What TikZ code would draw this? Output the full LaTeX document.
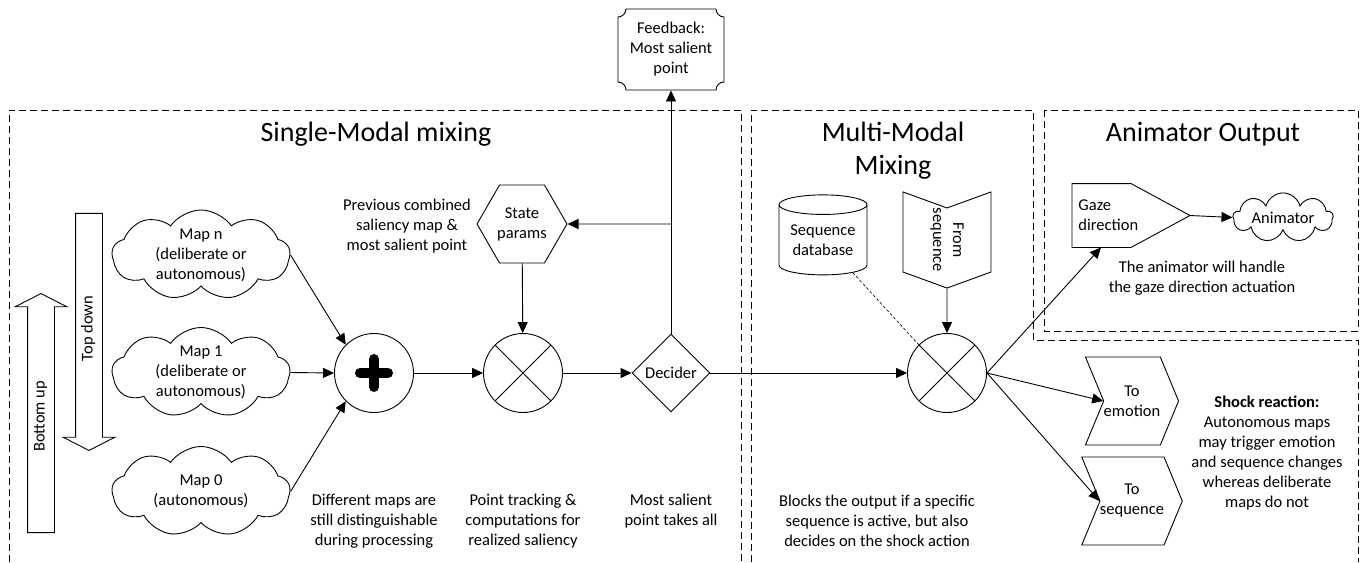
\documentclass[tikz,border=0pt]{standalone}
\usepackage{fontspec}
\setmainfont{Carlito}
\usetikzlibrary{arrows.meta,shapes.geometric,shapes.symbols,shapes.arrows}

\begin{document}
\begin{tikzpicture}[
        x=1pt, y=-1pt,
        line width=0.9pt,
        every node/.style={font=\fontsize{16.5}{20}\selectfont},
        flow/.style={-{Triangle[length=11pt,width=10pt]}},
        groupbox/.style={dash pattern=on 7pt off 4pt, line width=0.8pt},
        heading/.style={font=\fontsize{28}{33}\selectfont, align=center},
        note/.style={align=center},
        mapcloud/.style={cloud, draw, cloud puffs=9, cloud puff arc=110, cloud ignores aspect, minimum width=178pt, minimum height=90pt, inner xsep=0pt, inner ysep=-4pt, align=center},
        mixer/.style={circle, draw, minimum size=79pt, inner sep=0pt},
        crossed/.style={mixer, path picture={
            \draw (path picture bounding box.north west) -- (path picture bounding box.south east)
                  (path picture bounding box.south west) -- (path picture bounding box.north east);}},
        bigarrow/.style={single arrow, draw, rotate=90, single arrow head extend=12.5pt, single arrow tip angle=126, text height=10pt, text depth=3pt, inner ysep=6.5pt, inner xsep=0pt},
        chevron/.style={signal, draw, signal from=west, signal to=east, signal pointer angle=135, minimum width=88pt, minimum height=88pt, align=center, inner sep=0pt}
    ]
    \useasboundingbox (0,0) rectangle (1362,562);

    % group boxes
    \draw[groupbox] (9,562) -- (9,110) -- (741,110) -- (741,562);
    \draw[groupbox] (751,562) -- (751,110) -- (1033,110) -- (1033,340) -- (1358,340) -- (1358,562);
    \draw[groupbox] (1044,110) rectangle (1358,331);
    \node[heading] at (376,134) {Single-Modal mixing};
    \node[heading] at (893,151) {Multi-Modal\\Mixing};
    \node[heading] at (1203,134) {Animator Output};

    % single-modal part
    \node[bigarrow, minimum height=239pt] (bottomup) at (41,416.5) {Bottom up};
    \node[bigarrow, minimum height=237pt, shape border rotate=180] (topdown) at (89,328.5) {Top down};
    \node[mapcloud] (mapn) at (201,255) {Map n\\(deliberate or\\autonomous)};
    \node[mapcloud] (map1) at (201,372.5) {Map 1\\(deliberate or\\autonomous)};
    \node[mapcloud] (map0) at (201,491.5) {Map 0\\(autonomous)};
    \node[mixer] (plus) at (374,373) {};
    \draw[line width=10pt, line cap=round] ([xshift=-14pt]plus.center) -- ([xshift=14pt]plus.center)
        ([yshift=-14pt]plus.center) -- ([yshift=14pt]plus.center);
    \node[crossed] (mix1) at (523,373) {};
    \node[diamond, draw, minimum width=78pt, minimum height=78pt, inner sep=0pt] (decider) at (671,373) {Decider};
    \node[regular polygon, regular polygon sides=6, draw, minimum size=90pt, inner sep=0pt, align=center] (state) at (522,224) {State\\params};
    \node[minimum width=106pt, minimum height=81pt, align=center] (feedback) at (671,49.5) {Feedback:\\Most salient\\point};
    \draw (618,17) .. controls (622.4,17) and (626,13.4) .. (626,9) -- (716,9)
        .. controls (716,13.4) and (719.6,17) .. (724,17) -- (724,82)
        .. controls (719.6,82) and (716,85.6) .. (716,90) -- (626,90)
        .. controls (626,85.6) and (622.4,82) .. (618,82) -- cycle;

    \node[note] (prevnote) at (407,226) {Previous combined\\saliency map \&\\most salient point};
    \node[note] (mapsnote) at (374,521) {Different maps are\\still distinguishable\\during processing};
    \node[note] (tracknote) at (523,521) {Point tracking \&\\computations for\\realized saliency};
    \node[note] (decidenote) at (671,511) {Most salient\\point takes all};

    % multi-modal part
    \node[crossed] (mix2) at (947,373) {};
    \node[cylinder, draw, shape border rotate=90, aspect=0.3, minimum width=88pt, minimum height=80pt, inner sep=0pt, align=center] (seqdb) at (823,240) {Sequence\\database};
    \node[signal, draw, signal from=west, signal to=east, signal pointer angle=140, rotate=-90, minimum width=86pt, minimum height=88pt, inner sep=0pt, align=center] (fromseq) at (947,240) {From\\sequence};
    \node[note] (blocknote) at (877,521) {Blocks the output if a specific\\sequence is active, but also\\decides on the shock action};

    % outputs
    \node[anchor=west, text width=64pt, minimum height=63pt, inner xsep=6pt, inner ysep=0pt, align=left] (gaze) at (1072,215.5) {Gaze\\direction};
    \coordinate (gazetip) at (1190,215.5);
    \draw (gaze.north west) -- ++(59,0) -- (gazetip) -- ([xshift=59pt]gaze.south west) -- (gaze.south west) -- cycle;
    \node[cloud, draw, cloud puffs=9, cloud ignores aspect, minimum width=100pt, minimum height=40pt, inner xsep=0pt, inner ysep=4pt] (animator) at (1283,217.5) {Animator};
    \node[note] (gazenote) at (1202,278) {The animator will handle\\the gaze direction actuation};
    \node[chevron] (toemo) at (1132,401) {To\\emotion};
    \node[chevron] (toseq) at (1132,501) {To\\sequence};
    \node[note] (shocknote) at (1267,453) {\textbf{Shock reaction:}\\Autonomous maps\\may trigger emotion\\and sequence changes\\whereas deliberate\\maps do not};

    % connectors
    \draw[flow] (mapn.east) -- (plus.135);
    \draw[flow] (map1.east) -- (plus.west);
    \draw[flow] (map0.east) -- (plus.225);
    \draw[flow] (plus) -- (mix1);
    \draw[flow] (mix1) -- (decider);
    \draw[flow] (decider) -- (mix2);
    \draw[flow] (state) -- (mix1);
    \draw[flow] (decider) -- (feedback);
    \draw[flow] (decider.north |- state) -- (state.east);
    \draw[dash pattern=on 3pt off 2pt, line width=0.6pt] (seqdb) -- (mix2.135);
    \draw[flow] (fromseq) -- (mix2);
    \draw[flow] (mix2.east) -- ([xshift=29pt]gaze.south west);
    \draw[flow] (mix2.east) -- (toemo.west);
    \draw[flow] (mix2.east) -- (toseq.west);
    \draw[flow] (gazetip) -- (animator.west);
\end{tikzpicture}
\end{document}
